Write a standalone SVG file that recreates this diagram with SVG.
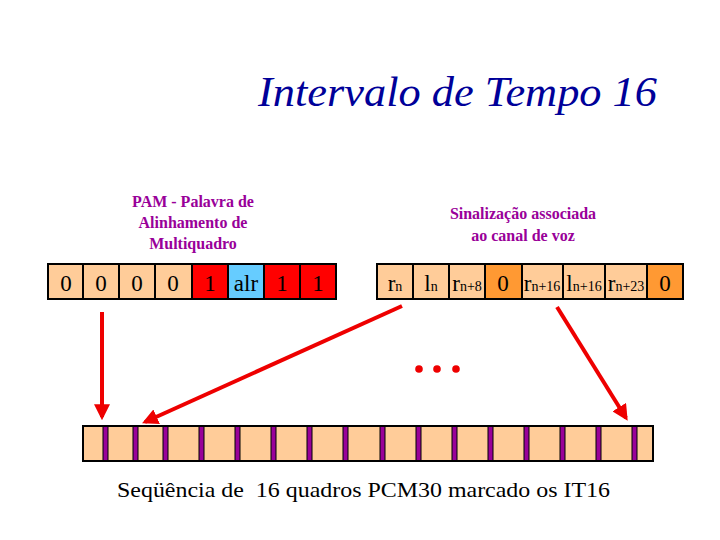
<svg xmlns="http://www.w3.org/2000/svg" width="720" height="540" viewBox="0 0 720 540">
<defs>
<style>
.cell{stroke:#000;stroke-width:2}
.pe{fill:#FFCC99}
.rd{fill:#FF0000}
.bl{fill:#66CCFF}
.or{fill:#FF9933}
.serif{font-family:"Liberation Serif","Times New Roman","DejaVu Serif","Noto Serif",serif}
.t{font-family:"Liberation Serif","Times New Roman","DejaVu Serif",serif;font-size:23px;text-anchor:middle;fill:#000}
.sub{font-size:14px}
.lbl{font-family:"Liberation Serif","Times New Roman","DejaVu Serif",serif;font-size:16px;font-weight:bold;fill:#990099;text-anchor:middle}
.bar{fill:#990099;stroke:#000;stroke-width:1}
.arr{stroke:#EE0000;stroke-width:4;fill:none}
</style>
<marker id="ah" markerWidth="4" markerHeight="4" refX="3.2" refY="2" orient="auto" markerUnits="strokeWidth">
<path d="M0,0 L4,2 L0,4 z" fill="#EE0000"/>
</marker>
</defs>
<rect width="720" height="540" fill="#fff"/>
<g id="title">
<text class="serif" x="258" y="106" font-style="italic" font-size="42" fill="#000099" textLength="399" lengthAdjust="spacingAndGlyphs">Intervalo de Tempo 16</text>
</g>
<g id="label-pam">
<text class="lbl" x="193" y="207">PAM - Palavra de</text>
<text class="lbl" x="193" y="228">Alinhamento de</text>
<text class="lbl" x="193" y="249">Multiquadro</text>
</g>
<g id="label-sinal">
<text class="lbl" x="523" y="219">Sinalização associada</text>
<text class="lbl" x="523" y="241">ao canal de voz</text>
</g>
<g id="row-pam">
<rect class="cell pe" x="48" y="264" width="35" height="35"/>
<rect class="cell pe" x="83" y="264" width="36" height="35"/>
<rect class="cell pe" x="119" y="264" width="36" height="35"/>
<rect class="cell pe" x="155" y="264" width="37" height="35"/>
<rect class="cell rd" x="192" y="264" width="36" height="35"/>
<rect class="cell bl" x="228" y="264" width="36" height="35"/>
<rect class="cell rd" x="264" y="264" width="36" height="35"/>
<rect class="cell rd" x="300" y="264" width="36" height="35"/>
<text class="t" x="66" y="291">0</text>
<text class="t" x="101" y="291">0</text>
<text class="t" x="137" y="291">0</text>
<text class="t" x="173" y="291">0</text>
<text class="t" x="210" y="291" fill="#660000">1</text>
<text class="t" x="246" y="291" fill="#000033">alr</text>
<text class="t" x="282" y="291" fill="#660000">1</text>
<text class="t" x="318" y="291" fill="#660000">1</text>
</g>
<g id="row-sinal">
<rect class="cell pe" x="377" y="264" width="36" height="35"/>
<rect class="cell pe" x="413" y="264" width="36" height="35"/>
<rect class="cell pe" x="449" y="264" width="36" height="35"/>
<rect class="cell or" x="485" y="264" width="37" height="35"/>
<rect class="cell pe" x="522" y="264" width="41" height="35"/>
<rect class="cell pe" x="563" y="264" width="42" height="35"/>
<rect class="cell pe" x="605" y="264" width="42" height="35"/>
<rect class="cell or" x="647" y="264" width="36" height="35"/>
<text class="t" x="395" y="291">r<tspan class="sub">n</tspan></text>
<text class="t" x="431" y="291">l<tspan class="sub">n</tspan></text>
<text class="t" x="467" y="291">r<tspan class="sub">n+8</tspan></text>
<text class="t" x="503" y="291">0</text>
<text class="t" x="542" y="291">r<tspan class="sub">n+16</tspan></text>
<text class="t" x="584" y="291">l<tspan class="sub">n+16</tspan></text>
<text class="t" x="626" y="291">r<tspan class="sub">n+23</tspan></text>
<text class="t" x="665" y="291">0</text>
</g>
<g id="dots" fill="#EE0000">
<circle cx="419" cy="369" r="3.8"/>
<circle cx="437" cy="369" r="3.8"/>
<circle cx="456" cy="369" r="3.8"/>
</g>
<g id="frames">
<rect class="cell pe" x="83" y="426" width="570" height="35"/>
<rect class="bar" x="103" y="426" width="5" height="35"/>
<rect class="bar" x="133" y="426" width="5" height="35"/>
<rect class="bar" x="163" y="426" width="5" height="35"/>
<rect class="bar" x="199" y="426" width="5" height="35"/>
<rect class="bar" x="235" y="426" width="5" height="35"/>
<rect class="bar" x="271" y="426" width="5" height="35"/>
<rect class="bar" x="307" y="426" width="5" height="35"/>
<rect class="bar" x="343" y="426" width="5" height="35"/>
<rect class="bar" x="380" y="426" width="5" height="35"/>
<rect class="bar" x="416" y="426" width="5" height="35"/>
<rect class="bar" x="452" y="426" width="5" height="35"/>
<rect class="bar" x="488" y="426" width="5" height="35"/>
<rect class="bar" x="524" y="426" width="5" height="35"/>
<rect class="bar" x="560" y="426" width="5" height="35"/>
<rect class="bar" x="596" y="426" width="5" height="35"/>
<rect class="bar" x="632" y="426" width="5" height="35"/>
<rect x="83" y="426" width="570" height="35" fill="none" stroke="#000" stroke-width="2"/>
</g>
<g id="connectors">
<line class="arr" x1="102" y1="312" x2="102" y2="417" marker-end="url(#ah)"/>
<line class="arr" x1="402" y1="306" x2="145" y2="422" marker-end="url(#ah)"/>
<line class="arr" x1="557" y1="307" x2="626" y2="418" marker-end="url(#ah)"/>
</g>
<g id="caption">
<text class="serif" x="117" y="497" font-size="22" fill="#000" textLength="493" lengthAdjust="spacingAndGlyphs" xml:space="preserve">Seqüência de  16 quadros PCM30 marcado os IT16</text>
</g>
</svg>
